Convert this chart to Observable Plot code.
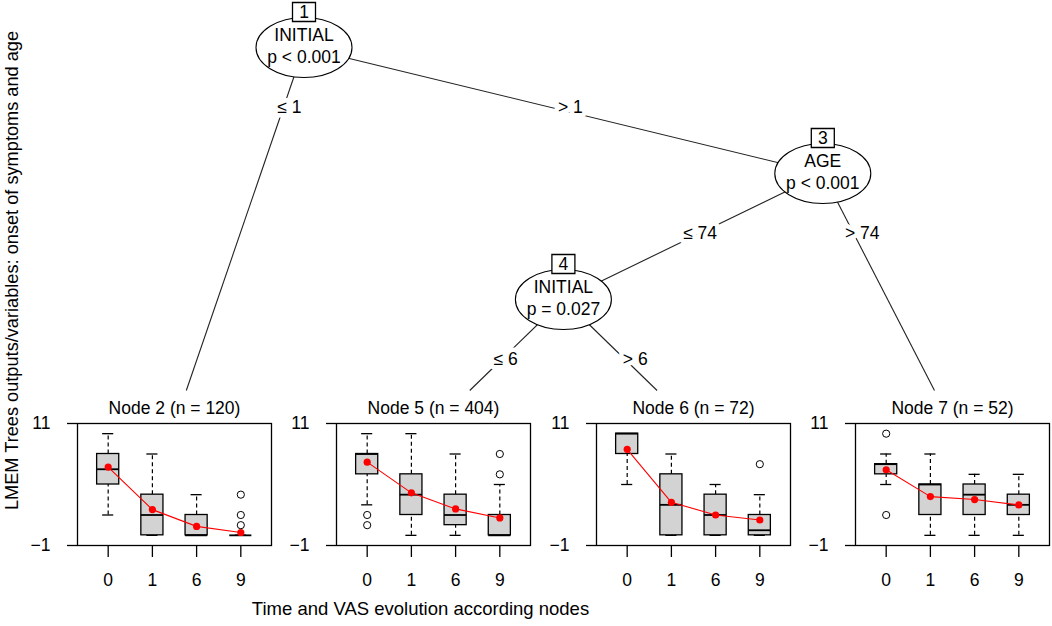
<!DOCTYPE html>
<html><head><meta charset="utf-8">
<script src="https://cdn.jsdelivr.net/npm/d3@7"></script>
<script src="https://cdn.jsdelivr.net/npm/@observablehq/plot@0.6"></script>
<style>
body{margin:0;background:#fff;}
#chart{position:relative;width:1052px;height:626px;overflow:hidden;background:#fff;}
#chart svg{position:absolute;}
</style></head><body><div id="chart"></div>
<script>
// ---------- data ----------
const times = ["0", "1", "6", "9"];

// tree structure
const innerIds = [1, 3, 4];
const innerVars = ["INITIAL", "AGE", "INITIAL"];
const innerPValues = ["p < 0.001", "p < 0.001", "p = 0.027"];
const edgeFrom = [1, 1, 3, 3, 4, 4];
const edgeTo = [2, 3, 4, 7, 5, 6];
const edgeLabels = ["≤ 1", "> 1", "≤ 74", "> 74", "≤ 6", "> 6"];
const terminalIds = [2, 5, 6, 7];
const terminalN = [120, 404, 72, 52];

// box stats per time: [lower whisker, Q1, median, Q3, upper whisker]
const node2Box = [[2, 5, 6.5, 8, 10], [0, 0, 2, 4, 8], [0, 0, 0, 2, 4], [0, 0, 0, 0, 0]];
const node5Box = [[3, 6, 8, 8, 10], [0, 2, 4, 6, 10], [0, 1, 2, 4, 8], [0, 0, 0, 2, 5]];
const node6Box = [[5, 8, 10, 10, 10], [0, 0, 3, 6, 8], [0, 0, 2, 4, 5], [0, 0, 0.5, 2, 4]];
const node7Box = [[5, 6, 7, 7, 8], [0, 2, 5, 5, 8], [0, 2, 4, 5, 6], [0, 2, 3, 4, 6]];

// means (red line)
const node2Means = [6.71, 2.53, 0.88, 0.28];
const node5Means = [7.2, 4.18, 2.6, 1.71];
const node6Means = [8.46, 3.25, 2.0, 1.51];
const node7Means = [6.45, 3.81, 3.52, 2.99];

// outliers [time, value]
const node2Outliers = [["9", 4], ["9", 2], ["9", 1]];
const node5Outliers = [["0", 2], ["0", 1], ["9", 6], ["9", 8]];
const node6Outliers = [["9", 7]];
const node7Outliers = [["0", 10], ["0", 2]];

const yTicks = [-1, 11];
const xTitle = "Time and VAS evolution according nodes";
const yTitle = "LMEM Trees outputs/variables: onset of symptoms and age";

// ---------- layout ----------
const FONT = '"Liberation Sans", Arial, Helvetica, sans-serif';
const kids = new Map();
edgeFrom.forEach((f, i) => { if (!kids.has(f)) kids.set(f, []); kids.get(f).push(i); });
function nLeaves(id) { return kids.has(id) ? kids.get(id).reduce((s, e) => s + nLeaves(edgeTo[e]), 0) : 1; }
const pos = new Map();
function layout(id, x0, x1, depth) {
  if (!kids.has(id)) { pos.set(id, {x: (x0 + x1) / 2, depth, terminal: true}); return; }
  const [l, r] = kids.get(id).map(e => edgeTo[e]);
  const nl = nLeaves(l);
  pos.set(id, {x: x0 + nl, depth, terminal: false});
  layout(l, x0, x0 + nl, depth + 1);
  layout(r, x0 + nl, x1, depth + 1);
}
const root = innerIds[0];
const totalLeaves = nLeaves(root);
layout(root, 0, totalLeaves, 0);
const leafRow = 3;

const W = 1052, H = 626;
const xRange = [44.1, 1081.7];
const yRange = [47, 425];
const xs = d3.scaleLinear([0, totalLeaves], xRange);
const ys = d3.scaleLinear([0, leafRow], yRange);
const cutDepth = ys.invert(390);

const innerData = innerIds.map((id, i) => ({id: String(id), v: innerVars[i], p: innerPValues[i], x: pos.get(id).x, d: pos.get(id).depth}));
const edgeData = edgeFrom.map((f, i) => {
  const a = pos.get(f), b = pos.get(edgeTo[i]);
  const bd = b.terminal ? leafRow : b.depth;
  const tEnd = b.terminal ? (cutDepth - a.depth) / (bd - a.depth) : 1;
  const tLab = 0.5 / (bd - a.depth);
  return {
    x1: a.x, y1: a.depth,
    x2: a.x + (b.x - a.x) * tEnd, y2: a.depth + (bd - a.depth) * tEnd,
    lx: a.x + (b.x - a.x) * tLab, ly: a.depth + (bd - a.depth) * tLab,
    label: edgeLabels[i]
  };
});

const ellipse = {draw(ctx) {
  const rx = 48, ry = 30, k = 0.5523;
  ctx.moveTo(rx, 0);
  ctx.bezierCurveTo(rx, ry * k, rx * k, ry, 0, ry);
  ctx.bezierCurveTo(-rx * k, ry, -rx, ry * k, -rx, 0);
  ctx.bezierCurveTo(-rx, -ry * k, -rx * k, -ry, 0, -ry);
  ctx.bezierCurveTo(rx * k, -ry, rx, -ry * k, rx, 0);
  ctx.closePath();
}};
const idBox = {draw(ctx) { ctx.rect(-11.5, -9.5, 23, 19); }};

const chart = document.getElementById("chart");
const FS = 17.5;
const baseStyle = {fontFamily: FONT, fontSize: FS + "px", background: "transparent", overflow: "visible", color: "black"};

const tree = Plot.plot({
  width: W, height: H, margin: 0,
  style: baseStyle,
  x: {domain: [0, totalLeaves], range: xRange, axis: null},
  y: {domain: [0, leafRow], range: yRange, axis: null},
  marks: [
    Plot.link(edgeData, {x1: "x1", y1: "y1", x2: "x2", y2: "y2", stroke: "#222", strokeWidth: 1.1}),
    Plot.text(edgeData, {x: "lx", y: "ly", text: "label", dx: 7, dy: -3, fontSize: FS, fill: "black", stroke: "white", strokeWidth: 9}),
    Plot.dot(innerData, {x: "x", y: "d", r: 1, symbol: ellipse, fill: "white", stroke: "black", strokeWidth: 1.1}),
    Plot.text(innerData, {x: "x", y: "d", text: "v", dy: -12, fontSize: FS}),
    Plot.text(innerData, {x: "x", y: "d", text: "p", dy: 10, fontSize: FS}),
    Plot.dot(innerData, {x: "x", y: "d", dy: -35.5, r: 1, symbol: idBox, fill: "white", stroke: "black", strokeWidth: 1.3}),
    Plot.text(innerData, {x: "x", y: "d", text: "id", dy: -35.5, fontSize: FS}),
    Plot.text([yTitle], {frameAnchor: "left", textAnchor: "middle", lineAnchor: "middle", dx: 12, dy: 270 - H / 2, rotate: -90, fontSize: 18.2}),
    Plot.text([xTitle], {frameAnchor: "bottom", textAnchor: "middle", lineAnchor: "middle", dx: 420 - W / 2, dy: -17, fontSize: 18.5})
  ]
});
tree.style.left = "0px"; tree.style.top = "0px";
chart.appendChild(tree);

const boxes = [node2Box, node5Box, node6Box, node7Box];
const meansAll = [node2Means, node5Means, node6Means, node7Means];
const outAll = [node2Outliers, node5Outliers, node6Outliers, node7Outliers];

const ml = 60, mr = 20, mt = 40, mb = 50, fw = 194, fh = 122, frameTop = 423;
terminalIds.forEach((id, i) => {
  const box = boxes[i];
  const stats = times.map((t, j) => ({time: t, lo: box[j][0], q1: box[j][1], med: box[j][2], q3: box[j][3], hi: box[j][4]}));
  const meanData = times.map((t, j) => ({time: t, mean: meansAll[i][j]}));
  const outData = outAll[i].map(([t, v]) => ({time: t, value: v}));
  const svg = Plot.plot({
    width: ml + fw + mr, height: mt + fh + mb,
    marginLeft: ml, marginRight: mr, marginTop: mt, marginBottom: mb,
    style: baseStyle,
    x: {type: "band", domain: times, paddingInner: 0.5, paddingOuter: 0.444, round: false},
    y: {domain: [-1, 11]},
    marks: [
      Plot.ruleX(stats, {x: "time", y1: "q3", y2: "hi", stroke: "black", strokeWidth: 1.2, strokeDasharray: "4,3"}),
      Plot.ruleX(stats, {x: "time", y1: "lo", y2: "q1", stroke: "black", strokeWidth: 1.2, strokeDasharray: "4,3"}),
      Plot.tickY(stats, {x: "time", y: "hi", insetLeft: 5.5, insetRight: 5.5, stroke: "black", strokeWidth: 1.3}),
      Plot.tickY(stats, {x: "time", y: "lo", insetLeft: 5.5, insetRight: 5.5, stroke: "black", strokeWidth: 1.3}),
      Plot.barY(stats, {x: "time", y1: "q1", y2: "q3", fill: "#d3d3d3", stroke: "black", strokeWidth: 1.3}),
      Plot.tickY(stats, {x: "time", y: "med", stroke: "black", strokeWidth: 1.8}),
      Plot.dot(outData, {x: "time", y: "value", r: 3.6, stroke: "black", strokeWidth: 1, fill: "none"}),
      Plot.line(meanData, {x: "time", y: "mean", stroke: "red", strokeWidth: 1.1}),
      Plot.dot(meanData, {x: "time", y: "mean", r: 3.6, fill: "red"}),
      Plot.frame({stroke: "black", strokeWidth: 1.3}),
      Plot.axisY({ticks: yTicks, tickSize: 10, tickPadding: 17, fontSize: FS, strokeWidth: 1.3, label: null}),
      Plot.axisX({tickSize: 12, tickPadding: 16, fontSize: FS, strokeWidth: 1.3, label: null}),
      Plot.text([`Node ${id} (n = ${terminalN[i]})`], {frameAnchor: "top", lineAnchor: "middle", dy: -15, fontSize: FS})
    ]
  });
  const cx = xs(pos.get(id).x);
  svg.style.left = (cx - fw / 2 - ml) + "px";
  svg.style.top = (frameTop - mt) + "px";
  chart.appendChild(svg);
});
</script></body></html>
